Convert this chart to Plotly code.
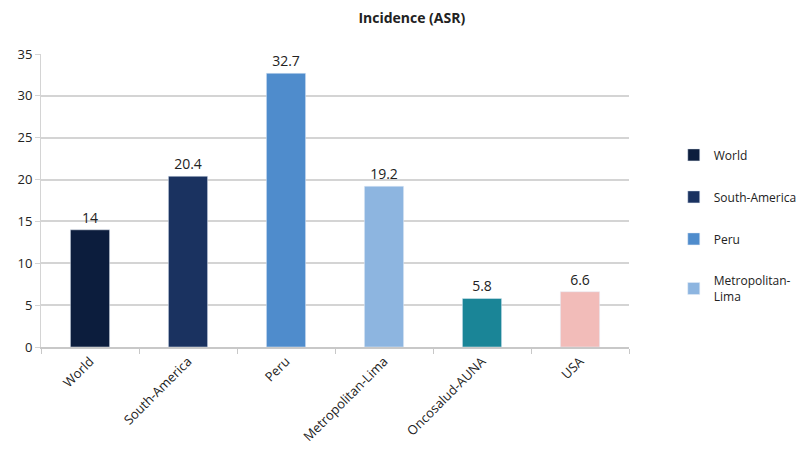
import plotly.graph_objects as go

categories = ["World", "South-America", "Peru", "Metropolitan-Lima", "Oncosalud-AUNA", "USA"]
values = [14, 20.4, 32.7, 19.2, 5.8, 6.6]
legend_names = ["World", "South-America", "Peru", "Metropolitan-<br>Lima", "Oncosalud-AUNA", "USA"]
show_in_legend = [True, True, True, True, False, False]
colors = ["#0c1d3d", "#1a3260", "#4f8ccc", "#8db5e0", "#1a8597", "#f2bcb9"]

fig = go.Figure()
for cat, val, nm, show, col in zip(categories, values, legend_names, show_in_legend, colors):
    fig.add_trace(go.Bar(
        x=[cat], y=[val], name=nm, marker_color=col, showlegend=show,
        legendgroup=cat,
        text=[f"{val:g}"], textposition="outside", cliponaxis=False,
        textfont=dict(size=14, color="#222"),
        width=0.40,
    ))

fig.update_layout(
    width=806, height=455,
    margin=dict(l=33, r=185, t=46, b=116, autoexpand=False),
    paper_bgcolor="white", plot_bgcolor="white",
    barmode="overlay",
    font=dict(family="Open Sans, Liberation Sans, sans-serif", size=13, color="#222"),
    title=dict(text="<b>Incidence (ASR)</b>", x=0.501, xanchor="center", y=0.978, yanchor="middle",
               font=dict(size=14, color="#222")),
    legend=dict(xref="container", yref="container", x=0.826, xanchor="left", y=0.709, yanchor="top",
                tracegroupgap=23, font=dict(size=12, color="#222"), itemwidth=30),
)
fig.update_yaxes(range=[0, 35], dtick=5, showgrid=True, gridcolor="#d4d4d4", gridwidth=1.5,
                 zeroline=False, showline=True, linecolor="#d4d4d4", ticks="outside", automargin=False,
                 ticklen=5, tickcolor="#d4d4d4", tickfont=dict(size=13, color="#222"))
fig.update_xaxes(showline=True, linecolor="#c8c8c8", linewidth=1.5, ticks="outside", tickson="boundaries",
                 automargin=False,
                 ticklen=5, tickcolor="#c8c8c8", tickangle=-45, tickfont=dict(size=13, color="#222"))

fig.write_html("out.html")
